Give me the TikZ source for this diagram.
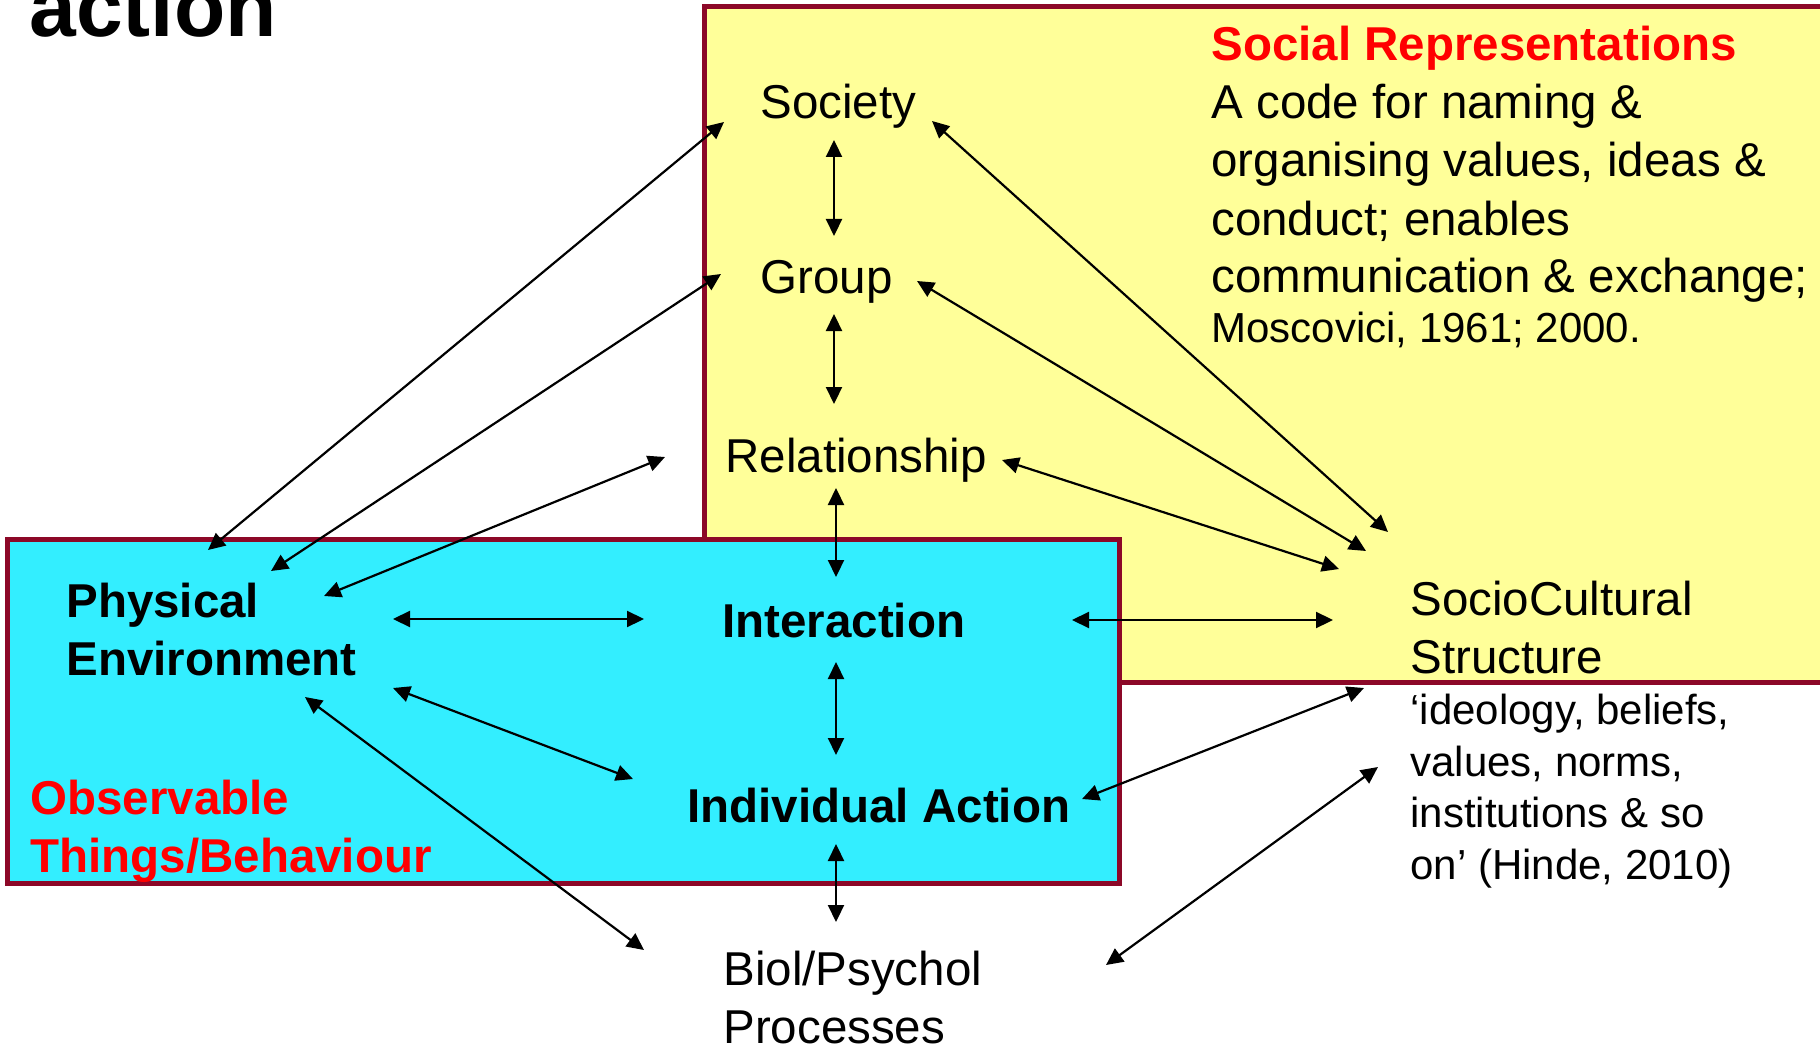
\documentclass[tikz,border=0pt]{standalone}
\usepackage{fontspec}
\setmainfont{Liberation Sans}
\usetikzlibrary{arrows.meta}
\definecolor{boxred}{RGB}{140,8,40}
\definecolor{srfill}{RGB}{255,255,153}
\definecolor{obsfill}{RGB}{51,238,255}
\tikzset{
  lbl/.style={anchor=base west,inner sep=0pt,align=left,font=\fontsize{23.75}{29}\selectfont},
  lblb/.style={lbl,font=\fontsize{23.75}{29}\selectfont\bfseries},
  lbls/.style={lbl,font=\fontsize{21}{25.75}\selectfont},
  dbl/.style={{Triangle[length=8.5pt,width=8pt]}-{Triangle[length=8.5pt,width=8pt]},line width=1.1pt},
}
\begin{document}
\begin{tikzpicture}[x=0.5pt,y=-0.5pt]
    \useasboundingbox (0,0) rectangle (1820,1048);

    % the two areas
    \draw[boxred,line width=2.5pt,fill=srfill] (704,7) rectangle (1840,682);
    \draw[boxred,line width=2.5pt,fill=obsfill] (7,539) rectangle (1119,883);

    \node[lblb,font=\fontsize{42}{50}\selectfont\bfseries] (title) at (29,37) {action};

    % multi-line nodes sit on the baseline of their last line
    \node[lbl] (soc) at (760,119) {Society};
    \node[lbl] (grp) at (760,293) {Group};
    \node[lbl] (rel) at (725,472) {Relationship};
    \node[lbl] (srep) at (1211,343) {{\color{red}\bfseries Social Representations}\\A code for naming \&\\organising values, ideas \&\\conduct; enables\\communication \& exchange;\\[-4pt]{\fontsize{21}{25.75}\selectfont Moscovici, 1961; 2000.}};
    \node[lbl] (scs) at (1410,673) {SocioCultural\\Structure};
    \node[lbls] (ideo) at (1410,879) {‘ideology, beliefs,\\values, norms,\\institutions \& so\\on’ (Hinde, 2010)};

    \node[lblb] (phys) at (66,675) {Physical\\Environment};
    \node[lblb] (inter) at (722,637) {Interaction};
    \node[lblb] (indiv) at (687,822) {Individual Action};
    \node[lblb,text=red] (obs) at (30,872) {Observable\\Things/Behaviour};
    \node[lbl] (biol) at (723,1043) {Biol/Psychol\\Processes};

    % vertical chain
    \draw[dbl] ([shift={(74,21)}]soc.base west) -- ([shift={(74,-57)}]grp.base west);
    \draw[dbl] ([shift={(74,21)}]grp.base west) -- ([shift={(109,-68)}]rel.base west);
    \draw[dbl] ([shift={(111,16)}]rel.base west) -- ([shift={(114,-60)}]inter.base west);
    \draw[dbl] ([shift={(114,25)}]inter.base west) -- ([shift={(149,-67)}]indiv.base west);
    \draw[dbl] ([shift={(149,22)}]indiv.base west) -- ([shift={(113,-121)}]biol.base west);

    % horizontal
    \draw[dbl] ([shift={(327,-56)}]phys.base west) -- ([shift={(-78,-18)}]inter.base west);
    \draw[dbl] ([shift={(350,-17)}]inter.base west) -- ([shift={(-77,-53)}]scs.base west);

    % from the physical environment
    \draw[dbl] ([shift={(142,-125)}]phys.base west) -- ([shift={(-36,3)}]soc.base west);
    \draw[dbl] ([shift={(205,-104)}]phys.base west) -- ([shift={(-39,-19)}]grp.base west);
    \draw[dbl] ([shift={(258,-79)}]phys.base west) -- ([shift={(-60,-15)}]rel.base west);
    \draw[dbl] ([shift={(327,13)}]phys.base west) -- ([shift={(-54,-43)}]indiv.base west);
    \draw[dbl] ([shift={(239,22)}]phys.base west) -- ([shift={(-79,-93)}]biol.base west);

    % to the sociocultural structure
    \draw[dbl] ([shift={(172,2)}]soc.base west) -- ([shift={(-22,-141)}]scs.base west);
    \draw[dbl] ([shift={(157,-12)}]grp.base west) -- ([shift={(-44,-122)}]scs.base west);
    \draw[dbl] ([shift={(277,-12)}]rel.base west) -- ([shift={(-71,-104)}]scs.base west);
    \draw[dbl] ([shift={(395,-23)}]indiv.base west) -- ([shift={(-46,-191)}]ideo.base west);
    \draw[dbl] ([shift={(383,-78)}]biol.base west) -- ([shift={(-32,-112)}]ideo.base west);
\end{tikzpicture}
\end{document}
